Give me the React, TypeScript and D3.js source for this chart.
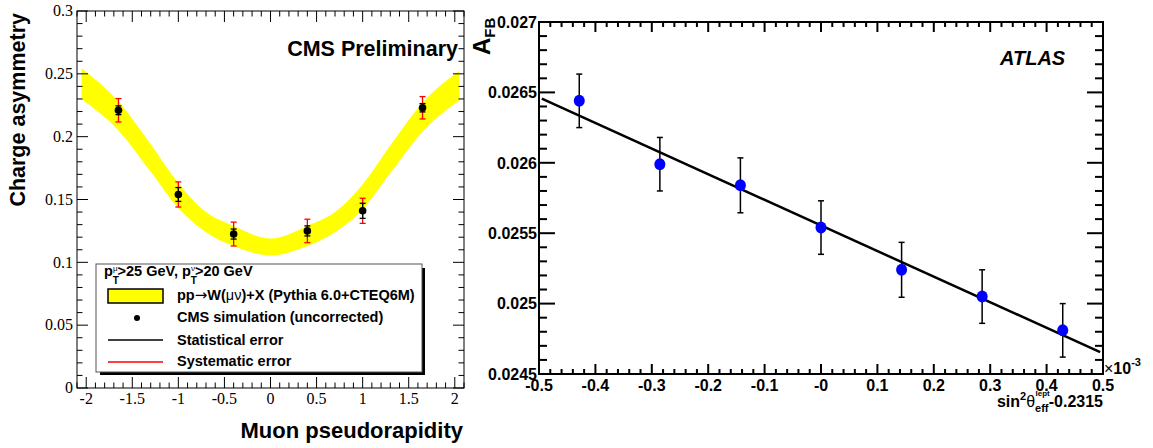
import * as d3 from 'd3'

// CMS charge asymmetry (left panel)
const cmsEta = [-1.65, -1.0, -0.4, 0.4, 1.0, 1.65]
const cmsAsym = [0.221, 0.154, 0.1225, 0.125, 0.141, 0.223]
const cmsStat = [0.0035, 0.0055, 0.004, 0.004, 0.006, 0.0033]
const cmsSyst = [0.0093, 0.01, 0.0095, 0.0093, 0.01, 0.0089]

// Pythia 6.0 + CTEQ6M prediction band
const bandEta = [-2.05, -1.65, -1.3, -1.0, -0.7, -0.4, 0, 0.4, 0.7, 1.0, 1.3, 1.65, 2.05]
const bandHigh = [0.2545, 0.228, 0.194, 0.163, 0.14, 0.129, 0.119, 0.129, 0.14, 0.162, 0.193, 0.227, 0.2525]
const bandLow = [0.2297, 0.205, 0.172, 0.143, 0.124, 0.113, 0.1055, 0.113, 0.124, 0.142, 0.171, 0.204, 0.229]

const cmsXTicks = [-2, -1.5, -1, -0.5, 0, 0.5, 1, 1.5, 2]
const cmsXLabels = ['-2', '-1.5', '-1', '-0.5', '0', '0.5', '1', '1.5', '2']
const cmsYTicks = [0, 0.05, 0.1, 0.15, 0.2, 0.25, 0.3]
const cmsYLabels = ['0', '0.05', '0.1', '0.15', '0.2', '0.25', '0.3']

// ATLAS A_FB vs sin2theta (right panel)
const atlasX = [-0.4286, -0.2857, -0.1429, 0, 0.1429, 0.2857, 0.4286]
const atlasAfb = [0.02644, 0.02599, 0.02584, 0.02554, 0.02524, 0.02505, 0.02481]
const atlasErr = [0.00019, 0.00019, 0.000195, 0.00019, 0.000195, 0.00019, 0.00019]
const fitX = [-0.495, 0.495]
const fitY = [0.026455, 0.024655]

const atlasXTicks = [-0.5, -0.4, -0.3, -0.2, -0.1, 0, 0.1, 0.2, 0.3, 0.4, 0.5]
const atlasXLabels = ['-0.5', '-0.4', '-0.3', '-0.2', '-0.1', '-0', '0.1', '0.2', '0.3', '0.4', '0.5']
const atlasYTicks = [0.0245, 0.025, 0.0255, 0.026, 0.0265, 0.027]
const atlasYLabels = ['0.0245', '0.025', '0.0255', '0.026', '0.0265', '0.027']

const SANS = 'Liberation Sans, Arial, Helvetica, sans-serif'
const SERIF = 'Liberation Serif, Times New Roman, serif'

type Scale = d3.ScaleLinear<number, number>

function Frame({ x, y, xMajor, xMinor, yMajor, yMinor, xLen, yLen, sw }: {
  x: Scale, y: Scale, xMajor: number[], xMinor: number[], yMajor: number[], yMinor: number[],
  xLen: number, yLen: number, sw: number
}) {
  const [x0, x1] = x.range()
  const [y0, y1] = y.range()
  const majX = new Set(xMajor.map(v => v.toFixed(4)))
  const majY = new Set(yMajor.map(v => v.toFixed(6)))
  return (
    <g stroke="#000" strokeWidth={sw} fill="none">
      <rect x={x0} y={y1} width={x1 - x0} height={y0 - y1} />
      {xMinor.map((v, i) => {
        const len = majX.has(v.toFixed(4)) ? xLen : xLen / 2
        const px = x(v)
        return (
          <g key={'x' + i}>
            <line x1={px} x2={px} y1={y0} y2={y0 - len} />
            <line x1={px} x2={px} y1={y1} y2={y1 + len} />
          </g>
        )
      })}
      {yMinor.map((v, i) => {
        const len = majY.has(v.toFixed(6)) ? yLen : yLen / 2
        const py = y(v)
        return (
          <g key={'y' + i}>
            <line x1={x0} x2={x0 + len} y1={py} y2={py} />
            <line x1={x1} x2={x1 - len} y1={py} y2={py} />
          </g>
        )
      })}
    </g>
  )
}

function CmsPanel() {
  const x = d3.scaleLinear().domain([-2.1, 2.1]).range([77, 464])
  const y = d3.scaleLinear().domain([0, 0.3]).range([388, 11])

  const band = d3.area<number>()
    .x(i => x(bandEta[i]))
    .y0(i => y(bandLow[i]))
    .y1(i => y(bandHigh[i]))
    .curve(d3.curveMonotoneX)

  const xMinor = d3.range(-21, 22).map(k => k / 10)
  const yMinor = d3.range(0, 31).map(k => k / 100)

  return (
    <g>
      <path d={band(d3.range(bandEta.length)) ?? ''} fill="#ffff00" stroke="none" />

      {/* error bars: systematic (red) under statistical (black) */}
      {cmsEta.map((e, i) => {
        const px = x(e)
        const ys0 = y(cmsAsym[i] - cmsSyst[i])
        const ys1 = y(cmsAsym[i] + cmsSyst[i])
        const yt0 = y(cmsAsym[i] - cmsStat[i])
        const yt1 = y(cmsAsym[i] + cmsStat[i])
        return (
          <g key={i}>
            <g stroke="#ff0000" strokeWidth={1.3}>
              <line x1={px} x2={px} y1={ys0} y2={ys1} />
              <line x1={px - 3} x2={px + 3} y1={ys0} y2={ys0} />
              <line x1={px - 3} x2={px + 3} y1={ys1} y2={ys1} />
            </g>
            <g stroke="#000" strokeWidth={1.3}>
              <line x1={px} x2={px} y1={yt0} y2={yt1} />
              <line x1={px - 3} x2={px + 3} y1={yt0} y2={yt0} />
              <line x1={px - 3} x2={px + 3} y1={yt1} y2={yt1} />
            </g>
            <circle cx={px} cy={y(cmsAsym[i])} r={3.8} fill="#000" />
          </g>
        )
      })}

      <Frame x={x} y={y} xMajor={cmsXTicks} xMinor={xMinor} yMajor={cmsYTicks} yMinor={yMinor}
        xLen={11} yLen={11} sw={1} />

      {cmsXTicks.map((v, i) => (
        <text key={i} x={x(v)} y={404} textAnchor="middle" fontFamily={SERIF} fontSize={16} fill="#000">
          {cmsXLabels[i]}
        </text>
      ))}
      {cmsYTicks.map((v, i) => (
        <text key={i} x={73} y={y(v)} dy="0.33em" textAnchor="end" fontFamily={SERIF} fontSize={16} fill="#000">
          {cmsYLabels[i]}
        </text>
      ))}

      <text x={458} y={56} textAnchor="end" fontFamily={SANS} fontWeight="bold" fontSize={21.5}>CMS Preliminary</text>
      <text transform="translate(25,13) rotate(-90)" textAnchor="end" fontFamily={SANS} fontWeight="bold" fontSize={21.5}>
        Charge asymmetry
      </text>
      <text x={463} y={438} textAnchor="end" fontFamily={SANS} fontWeight="bold" fontSize={22}>Muon pseudorapidity</text>

      {/* legend */}
      <rect x={100} y={268} width={325} height={107} fill="#000" />
      <rect x={96} y={264} width={326} height={108} fill="#fff" stroke="#555" strokeWidth={1} />
      <g fontFamily={SANS} fontWeight="bold" fontSize={14.5} fill="#000">
        <text x={104} y={276}>
          p<tspan fontSize={10} dy={8}>T</tspan>
          <tspan fontSize={8} fontWeight="normal" dx={-6} dy={-13}>μ</tspan>
          <tspan dy={5}>&gt;25 GeV, p</tspan>
          <tspan fontSize={10} dy={8}>T</tspan>
          <tspan fontSize={8} fontWeight="normal" dx={-6} dy={-13}>ν</tspan>
          <tspan dy={5}>&gt;20 GeV</tspan>
        </text>
        <text x={177} y={300}>
          pp<tspan fontFamily="DejaVu Sans" fontWeight="normal" fontSize={15}>→</tspan>W(
          <tspan fontWeight="normal">μν</tspan>)+X (Pythia 6.0+CTEQ6M)
        </text>
        <text x={177} y={322}>CMS simulation (uncorrected)</text>
        <text x={177} y={345}>Statistical error</text>
        <text x={177} y={366}>Systematic error</text>
      </g>
      <rect x={108} y={289} width={55} height={14} fill="#ffff00" stroke="#000" strokeWidth={1.5} />
      <circle cx={137} cy={318} r={3} fill="#000" />
      <line x1={108} x2={163} y1={340} y2={340} stroke="#000" strokeWidth={1.3} />
      <line x1={108} x2={163} y1={362} y2={362} stroke="#ff0000" strokeWidth={1.3} />
    </g>
  )
}

function AtlasPanel() {
  const x = d3.scaleLinear().domain([-0.5, 0.5]).range([539, 1103])
  const y = d3.scaleLinear().domain([0.0245, 0.027]).range([374, 22])

  const fit = d3.line<number>().x(i => x(fitX[i])).y(i => y(fitY[i]))

  const xMinor = d3.range(-25, 26).map(k => k / 50)
  const yMinor = d3.range(245, 271).map(k => k / 10000)

  return (
    <g>
      <Frame x={x} y={y} xMajor={atlasXTicks} xMinor={xMinor} yMajor={atlasYTicks} yMinor={yMinor}
        xLen={10} yLen={16} sw={2} />

      <path d={fit(d3.range(fitX.length)) ?? ''} stroke="#000" strokeWidth={2.5} fill="none" />

      {atlasX.map((v, i) => {
        const px = x(v)
        const e0 = y(atlasAfb[i] - atlasErr[i])
        const e1 = y(atlasAfb[i] + atlasErr[i])
        return (
          <g key={i}>
            <g stroke="#000" strokeWidth={1.5}>
              <line x1={px} x2={px} y1={e0} y2={e1} />
              <line x1={px - 3} x2={px + 3} y1={e0} y2={e0} />
              <line x1={px - 3} x2={px + 3} y1={e1} y2={e1} />
            </g>
            <ellipse cx={px} cy={y(atlasAfb[i])} rx={5.5} ry={6} fill="#0000ff" />
          </g>
        )
      })}

      <g fontFamily={SANS} fontWeight="bold" fontSize={16} fill="#000">
        {atlasXTicks.map((v, i) => (
          <text key={i} x={x(v)} y={391} textAnchor="middle">{atlasXLabels[i]}</text>
        ))}
        {atlasYTicks.map((v, i) => (
          <text key={i} x={537} y={y(v)} dy="0.36em" textAnchor="end">{atlasYLabels[i]}</text>
        ))}
      </g>

      <text x={1000} y={65} fontFamily={SANS} fontWeight="bold" fontStyle="italic" fontSize={20}>ATLAS</text>

      <text transform="translate(490,55) rotate(-90)" fontFamily={SANS} fontWeight="bold" fontSize={24}>
        A<tspan fontSize={15} dy={5}>FB</tspan>
      </text>

      <text x={1104} y={374} fontFamily={SANS} fontSize={16} fill="#000">
        ×<tspan fontWeight="bold">10</tspan>
        <tspan fontWeight="bold" fontSize={11} dy={-8}>-3</tspan>
      </text>

      <text x={1103} y={407} textAnchor="end" fontFamily={SANS} fontWeight="bold" fontSize={16} fill="#000">
        sin<tspan fontSize={11} dy={-7}>2</tspan>
        <tspan fontWeight="normal" dy={7}>θ</tspan>
        <tspan fontSize={11} dy={5}>eff</tspan>
        <tspan fontSize={8} dx={-13} dy={-16}>lept</tspan>
        <tspan dx={-1} dy={11}>-0.2315</tspan>
      </text>
    </g>
  )
}

export default function App() {
  return (
    <svg width={1153} height={448} viewBox="0 0 1153 448"
      style={{ position: 'absolute', left: 0, top: 0, background: '#fff' }}>
      <rect width={1153} height={448} fill="#fff" />
      <CmsPanel />
      <AtlasPanel />
    </svg>
  )
}
